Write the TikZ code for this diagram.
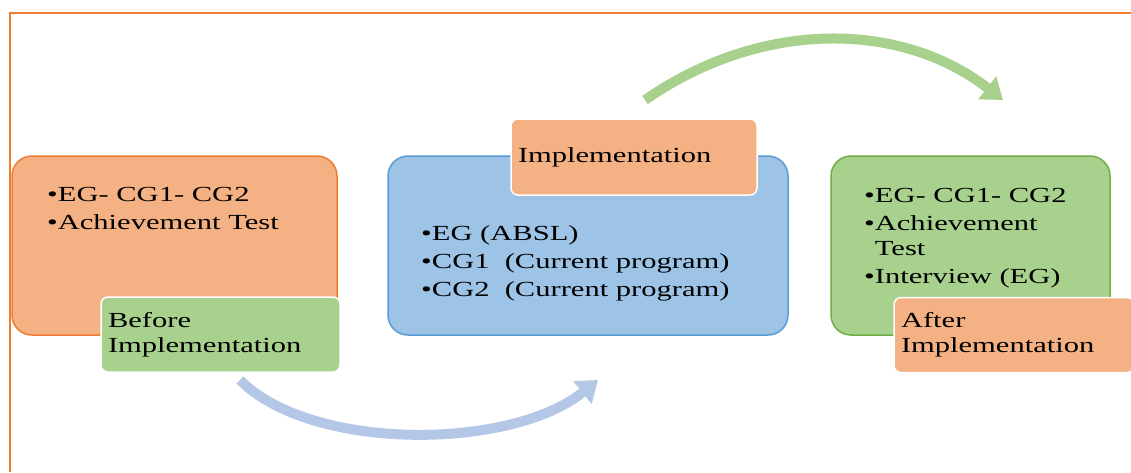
\documentclass[tikz,border=0pt]{standalone}
\usepackage{fontspec}
\setmainfont[FakeStretch=1.42]{Liberation Serif}
\usetikzlibrary{arrows.meta}
\definecolor{orangeline}{HTML}{ED7D31}
\definecolor{orangefill}{HTML}{F4B183}
\definecolor{blueline}{HTML}{5B9BD5}
\definecolor{bluefill}{HTML}{9DC3E6}
\definecolor{greenline}{HTML}{70AD47}
\definecolor{greenfill}{HTML}{A9D18E}
\definecolor{bluearrow}{HTML}{B4C7E7}

\begin{document}
\begin{tikzpicture}[%
  x=1pt, y=-1pt,
  stage/.style={rectangle, rounded corners=20pt, line width=1.5pt, minimum height=179pt, inner sep=0pt},
  tag/.style={rectangle, rounded corners=7pt, draw=white, line width=1.5pt, minimum height=75pt,
    inner xsep=7pt, inner ysep=0pt, align=left, font=\fontsize{21.5}{25}\selectfont},
  txt/.style={anchor=base west, align=left, inner sep=0pt, font=\fontsize{21.5}{28}\selectfont},
  bigarrow/.style={line width=10pt, -{Triangle[width=28pt,length=20pt]}},]
  \useasboundingbox (0,0) rectangle (1131,472);
  \draw[orangeline, line width=2pt] (1131,13) -- (10,13) -- (10,472);

  % before
  \node[stage, draw=orangeline, fill=orangefill, minimum width=325pt] (before) at (174.5,245.5) {};
  \node[txt] (beforetxt) at (47,229) {•EG- CG1- CG2\\•Achievement Test};
  \node[tag, fill=greenfill, text width=225pt] (beforetag) at (220.5,334.5) {Before\\Implementation};

  % implementation
  \node[stage, draw=blueline, fill=bluefill, minimum width=400pt] (impl) at (588,245.5) {};
  \node[txt] (impltxt) at (421,296) {•EG (ABSL)\\•CG1 \ (Current program)\\•CG2 \ (Current program)};
  \node[tag, fill=orangefill, text width=232pt, minimum height=76pt] (impltag) at (634,157) {Implementation};

  % after
  \node[stage, draw=greenline, fill=greenfill, minimum width=279pt] (after) at (970.5,245.5) {};
  \node[txt] (aftertxt) at (864,283) {•EG- CG1- CG2\\•Achievement\\[-3pt]\hphantom{•}Test\\•Interview (EG)};
  \node[tag, fill=orangefill, text width=226pt] (aftertag) at (1014,335) {After\\Implementation};

  % arrows
  \coordinate (g1) at (645,100);
  \coordinate (g2) at (1003,100);
  \coordinate (b1) at (240,380);
  \coordinate (b2) at (598,380);
  \draw[bigarrow, greenfill] (g1) .. controls (760,20) and (900,20) .. (g2);
  \draw[bigarrow, bluearrow] (b1) .. controls (310,451) and (510,451) .. (b2);
\end{tikzpicture}
\end{document}
